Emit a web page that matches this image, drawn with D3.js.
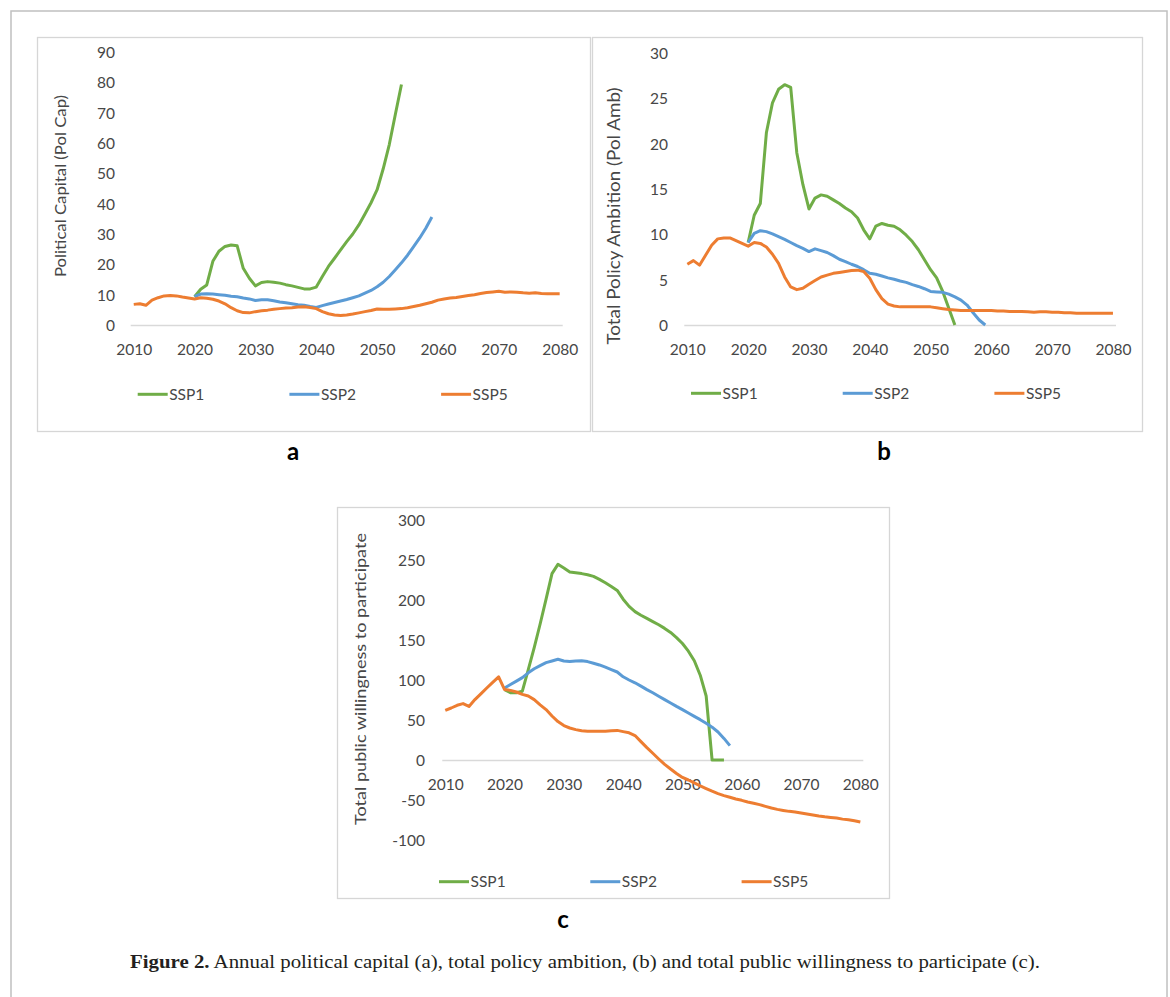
<!DOCTYPE html>
<html>
<head>
<meta charset="utf-8">
<script src="https://cdn.jsdelivr.net/npm/d3@7"></script>
<style>
  html, body { margin: 0; padding: 0; background: #ffffff; }
  svg { display: block; }
</style>
</head>
<body>
<svg id="fig" width="1170" height="997"></svg>
<script>
// ---------------- DATA ----------------
const xTickYears = [2010, 2020, 2030, 2040, 2050, 2060, 2070, 2080];
const seriesNames = ["SSP1", "SSP2", "SSP5"];
const startSSP1 = 2020, startSSP2 = 2020, startSSP5 = 2010;

// (a) Political capital
const polCapTicks = [0, 10, 20, 30, 40, 50, 60, 70, 80, 90];
const polCapSSP1 = [9.3, 11.8, 13.2, 21.0, 24.3, 25.9, 26.4, 26.1, 18.7, 15.4,
  12.9, 14.0, 14.3, 14.1, 13.8, 13.3, 12.9, 12.4, 11.9, 11.9,
  12.5, 16.0, 19.3, 22.0, 24.8, 27.5, 30.0, 33.0, 36.6, 40.3,
  44.6, 51.5, 59.5, 69.5, 79.3];
const polCapSSP2 = [9.4, 10.2, 10.3, 10.2, 10.0, 9.8, 9.5, 9.3, 8.9, 8.6,
  8.1, 8.3, 8.3, 8.0, 7.6, 7.3, 7.0, 6.7, 6.5, 6.1,
  5.8, 6.4, 6.9, 7.4, 7.9, 8.4, 9.0, 9.6, 10.5, 11.4,
  12.6, 14.1, 16.0, 18.2, 20.5, 23.0, 25.8, 28.7, 31.9, 35.6];
const polCapSSP5 = [6.8, 7.0, 6.5, 8.2, 9.0, 9.6, 9.7, 9.6, 9.2, 8.9,
  8.6, 9.0, 8.8, 8.5, 7.9, 7.0, 5.7, 4.7, 4.1, 4.0,
  4.4, 4.7, 4.9, 5.2, 5.4, 5.6, 5.7, 5.9, 6.0, 5.8,
  5.4, 4.4, 3.7, 3.3, 3.1, 3.3, 3.6, 4.0, 4.4, 4.8,
  5.3, 5.2, 5.2, 5.3, 5.4, 5.7, 6.1, 6.5, 7.0, 7.5,
  8.2, 8.6, 8.9, 9.1, 9.4, 9.7, 10.0, 10.4, 10.7, 10.9,
  11.1, 10.8, 10.9, 10.8, 10.6, 10.5, 10.6, 10.4, 10.3, 10.3, 10.3];

// (b) Total policy ambition
const polAmbTicks = [0, 5, 10, 15, 20, 25, 30];
const polAmbSSP1 = [9.1, 12.1, 13.4, 21.2, 24.5, 26.0, 26.5, 26.2, 19.0, 15.5,
  12.8, 14.0, 14.35, 14.2, 13.8, 13.4, 12.9, 12.5, 11.8, 10.5,
  9.5, 10.9, 11.2, 11.0, 10.9, 10.5, 9.9, 9.2, 8.3, 7.2,
  6.1, 5.2, 3.7, 1.85, 0];
const polAmbSSP2 = [9.1, 10.1, 10.4, 10.3, 10.05, 9.75, 9.45, 9.1, 8.75, 8.45,
  8.1, 8.4, 8.2, 8.0, 7.65, 7.25, 7.0, 6.7, 6.45, 6.1,
  5.7, 5.6, 5.4, 5.2, 5.05, 4.85, 4.7, 4.45, 4.25, 4.0,
  3.7, 3.65, 3.6, 3.4, 3.1, 2.75, 2.2, 1.35, 0.55, 0];
const polAmbSSP5 = [6.7, 7.1, 6.6, 7.7, 8.8, 9.5, 9.6, 9.6, 9.3, 9.0,
  8.7, 9.1, 9.0, 8.6, 7.8, 6.8, 5.3, 4.2, 3.9, 4.05,
  4.5, 4.9, 5.3, 5.5, 5.7, 5.8, 5.9, 6.0, 6.05, 5.9,
  5.15, 3.9, 2.9, 2.3, 2.1, 2.0, 2.0, 2.0, 2.0, 2.0,
  2.0, 1.9, 1.8, 1.7, 1.65, 1.6, 1.6, 1.6, 1.6, 1.6,
  1.6, 1.55, 1.55, 1.5, 1.5, 1.5, 1.45, 1.4, 1.45, 1.45,
  1.4, 1.4, 1.35, 1.35, 1.3, 1.3, 1.3, 1.3, 1.3, 1.3, 1.3];

// (c) Total public willingness to participate
const willTicks = [-100, -50, 0, 50, 100, 150, 200, 250, 300];
const willSSP1 = [88, 84, 84, 86, 113, 140.6, 170, 201, 233, 244.6,
  240, 235, 234, 233, 231.6, 229.5, 225.8, 221.6, 217, 212,
  201, 192, 185.5, 181, 177, 173, 169, 164.5, 159.5, 153,
  145.6, 136, 124, 106, 80, 0, 0, 0];
const willSSP2 = [90, 94.4, 98.6, 103, 109, 114, 118, 121.7, 123.8, 126,
  123.8, 123, 123.8, 124, 123, 121, 118.8, 116, 113, 110,
  104, 100, 96.5, 92.3, 88, 84, 79.7, 75.5, 71.3, 67,
  63, 58.7, 54.5, 50.4, 46, 41, 35, 27, 18];
const willSSP5 = [62, 65, 68.4, 70.5, 67, 75.5, 82.7, 90, 97, 104,
  88, 87, 85, 82, 80, 75.5, 69, 63, 55, 48,
  43, 40, 38, 36.5, 36, 36, 36, 36, 36.5, 37,
  35.5, 34, 30.6, 23, 15.5, 8.4, 1.3, -5.5, -11.3, -16.8,
  -21.8, -25, -28.5, -32.3, -35.7, -39, -42, -44.5, -46.6, -48.7,
  -50.4, -52.5, -54, -55.8, -57.9, -60, -61.7, -63, -64.2, -65,
  -66.3, -67.6, -68.8, -70, -71, -71.8, -72.6, -73.9, -74.7, -76, -77.6];

// ---------------- STYLE ----------------
const colors = { SSP1: "#70ad47", SSP2: "#5b9bd5", SSP5: "#ed7d31" };
const textColor = "#474747";
const font = "Lato, 'Open Sans', 'DejaVu Sans', sans-serif";

const svg = d3.select("#fig");

// outer frame
svg.append("rect").attr("x", 11).attr("y", 11).attr("width", 1156).attr("height", 1010)
  .attr("fill", "none").attr("stroke", "#c0c0c0").attr("stroke-width", 1.5);

function toPoints(values, start) {
  return values.map((v, i) => ({ year: start + i, value: v }));
}

function drawPanel(cfg) {
  const g = svg.append("g");
  // panel box
  g.append("rect").attr("x", cfg.box[0] + 0.5).attr("y", cfg.box[1] + 0.5)
    .attr("width", cfg.box[2] - cfg.box[0]).attr("height", cfg.box[3] - cfg.box[1])
    .attr("fill", "#fff").attr("stroke", "#d6d6d6").attr("stroke-width", 1.3);

  const x = d3.scaleLinear().domain([2009.5, 2080.5]).range(cfg.xRange);
  const y = d3.scaleLinear().domain(cfg.yDomain).range(cfg.yRange);

  // zero line
  g.append("line").attr("x1", cfg.xRange[0]).attr("x2", cfg.xRange[1])
    .attr("y1", Math.round(y(0)) + 0.5).attr("y2", Math.round(y(0)) + 0.5)
    .attr("stroke", "#d9d9d9").attr("stroke-width", 1.3);

  // y axis
  const yAxis = g.append("g").attr("transform", `translate(${cfg.yLabelRight},0)`)
    .call(d3.axisLeft(y).tickValues(cfg.yTicks).tickSize(0).tickPadding(0)
      .tickFormat(d => String(d)));
  yAxis.select(".domain").remove();
  yAxis.selectAll("text").attr("font-family", font).attr("font-size", 15.5)
    .attr("fill", textColor).attr("dy", "0.35em");

  // x axis labels
  const xAxis = g.append("g").attr("transform", `translate(0,${y(0) + 25})`)
    .call(d3.axisBottom(x).tickValues(xTickYears).tickSize(0).tickFormat(d => String(d)));
  xAxis.select(".domain").remove();
  xAxis.selectAll("text").attr("font-family", font).attr("font-size", 15.5)
    .attr("fill", textColor).attr("y", 0).attr("dy", "0.35em");

  // y axis title
  g.append("text")
    .attr("transform", `translate(${cfg.title.x},${cfg.title.y}) rotate(-90)`)
    .attr("text-anchor", "middle").attr("dy", "0.35em")
    .attr("font-family", font).attr("font-size", cfg.title.size).attr("fill", textColor)
    .attr("textLength", cfg.title.len).attr("lengthAdjust", "spacingAndGlyphs")
    .text(cfg.title.text);

  // lines
  const line = d3.line().x(d => x(d.year)).y(d => y(d.value));
  cfg.series.forEach(s => {
    g.append("path").datum(toPoints(s.values, s.start))
      .attr("d", line).attr("fill", "none")
      .attr("stroke", colors[s.name]).attr("stroke-width", 3)
      .attr("stroke-linejoin", "round").attr("stroke-linecap", "butt");
  });

  // legend
  seriesNames.forEach((name, i) => {
    const lx = cfg.legend.x0 + i * cfg.legend.step;
    g.append("line").attr("x1", lx).attr("x2", lx + 30)
      .attr("y1", cfg.legend.y).attr("y2", cfg.legend.y)
      .attr("stroke", colors[name]).attr("stroke-width", 3);
    g.append("text").attr("x", lx + 31.5).attr("y", cfg.legend.y).attr("dy", "0.35em")
      .attr("font-family", font).attr("font-size", 15.5).attr("fill", textColor)
      .text(name);
  });

  // panel letter
  svg.append("text").attr("x", cfg.letter.x).attr("y", cfg.letter.y).attr("dy", "0.35em")
    .attr("text-anchor", "middle").attr("font-family", font).attr("font-weight", "bold")
    .attr("font-size", 24).attr("fill", "#000").text(cfg.letter.t);
}

drawPanel({
  box: [37, 37, 590, 431],
  xRange: [130.7, 562.7], yDomain: [0, 90], yRange: [325, 52], yTicks: polCapTicks,
  yLabelRight: 115,
  title: { x: 61, y: 186, len: 182, size: 15, text: "Political Capital (Pol Cap)" },
  series: [
    { name: "SSP1", values: polCapSSP1, start: startSSP1 },
    { name: "SSP2", values: polCapSSP2, start: startSSP2 },
    { name: "SSP5", values: polCapSSP5, start: startSSP5 }
  ],
  legend: { x0: 137.7, step: 151.7, y: 394.3 },
  letter: { x: 293, y: 452, t: "a" }
});

drawPanel({
  box: [592, 37, 1142, 431],
  xRange: [684.3, 1116], yDomain: [0, 30], yRange: [325, 53], yTicks: polAmbTicks,
  yLabelRight: 668,
  title: { x: 614, y: 216, len: 257, size: 17, text: "Total Policy Ambition (Pol Amb)" },
  series: [
    { name: "SSP1", values: polAmbSSP1, start: startSSP1 },
    { name: "SSP2", values: polAmbSSP2, start: startSSP2 },
    { name: "SSP5", values: polAmbSSP5, start: startSSP5 }
  ],
  legend: { x0: 691, step: 151.7, y: 393.3 },
  letter: { x: 884, y: 452, t: "b" }
});

drawPanel({
  box: [337, 507, 889, 898],
  xRange: [442.3, 863.3], yDomain: [-100, 300], yRange: [840, 520], yTicks: willTicks,
  yLabelRight: 425,
  title: { x: 360, y: 679, len: 292, size: 16, text: "Total public willingness to participate" },
  series: [
    { name: "SSP1", values: willSSP1, start: startSSP1 },
    { name: "SSP2", values: willSSP2, start: startSSP2 },
    { name: "SSP5", values: willSSP5, start: startSSP5 }
  ],
  legend: { x0: 439, step: 151.3, y: 881.7 },
  letter: { x: 563, y: 920, t: "c" }
});

// caption
const cap = svg.append("text").attr("x", 130).attr("y", 968)
  .attr("font-family", "'Liberation Serif', 'DejaVu Serif', serif").attr("font-size", 19)
  .attr("fill", "#231f20").attr("textLength", 910).attr("lengthAdjust", "spacingAndGlyphs");
cap.append("tspan").attr("font-weight", "bold").text("Figure 2.");
cap.append("tspan").text(" Annual political capital (a), total policy ambition, (b) and total public willingness to participate (c).");
</script>
</body>
</html>
